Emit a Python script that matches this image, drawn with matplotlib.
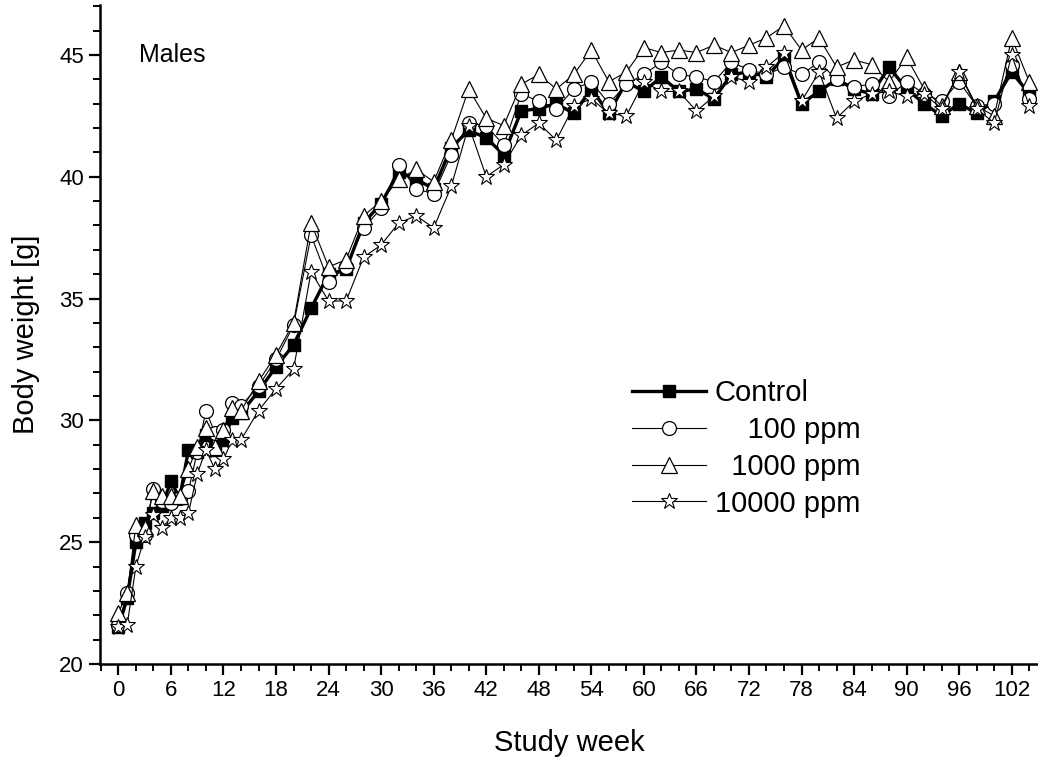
import matplotlib
matplotlib.use("Agg")
import matplotlib.pyplot as plt
from matplotlib.ticker import MultipleLocator

plt.rcParams["font.family"] = ["Liberation Sans", "DejaVu Sans"]

# study weeks: weekly up to 14, then every second week
weeks = list(range(0, 15)) + list(range(16, 105, 2))

control = [21.5, 22.7, 25.0, 25.8, 26.2, 26.5, 27.5, 26.8, 28.8, 28.7, 29.4, 28.8, 29.2, 30.1, 30.3,
           31.2, 32.2, 33.1, 34.6, 36.0, 36.2, 38.1, 38.9, 40.2, 39.9, 39.5, 41.2, 41.9, 41.6, 40.9,
           42.7, 42.8, 43.0, 42.6, 43.6, 42.6, 43.9, 43.5, 44.1, 43.5, 43.6, 43.2, 44.2, 44.3, 44.1,
           44.9, 43.0, 43.5, 44.0, 43.6, 43.4, 44.5, 43.6, 43.0, 42.5, 43.0, 42.6, 43.1, 44.3, 43.4]
ppm100 = [21.6, 22.9, 25.3, 25.3, 27.2, 26.7, 26.6, 26.8, 27.1, 28.7, 30.4, 29.5, 29.6, 30.7, 30.6,
          31.4, 32.5, 33.9, 37.6, 35.7, 36.3, 37.9, 38.7, 40.5, 39.5, 39.3, 40.9, 42.2, 42.1, 41.3,
          43.4, 43.1, 42.8, 43.6, 43.9, 43.0, 43.8, 44.2, 44.7, 44.2, 44.1, 43.9, 44.7, 44.4, 44.2,
          44.5, 44.2, 44.7, 44.0, 43.7, 43.8, 43.3, 43.9, 43.4, 43.1, 43.9, 42.9, 43.0, 44.6, 43.2]
ppm1000 = [22.1, 22.9, 25.7, 25.6, 27.1, 26.9, 26.9, 26.9, 28.0, 28.9, 29.7, 28.9, 29.6, 30.5, 30.4,
           31.6, 32.7, 34.0, 38.1, 36.3, 36.6, 38.4, 39.0, 39.9, 40.3, 39.8, 41.5, 43.6, 42.4, 42.1,
           43.8, 44.2, 43.6, 44.2, 45.2, 43.9, 44.3, 45.3, 45.1, 45.2, 45.1, 45.4, 45.1, 45.4, 45.7,
           46.2, 45.2, 45.7, 44.5, 44.8, 44.6, 43.9, 44.9, 43.6, 42.9, 44.3, 42.9, 42.5, 45.7, 43.9]
ppm10000 = [21.5, 21.6, 24.0, 25.2, 26.1, 25.6, 26.0, 26.0, 26.2, 27.8, 28.8, 28.0, 28.4, 29.2, 29.2,
            30.4, 31.3, 32.1, 36.1, 34.9, 34.9, 36.7, 37.2, 38.1, 38.4, 37.9, 39.6, 42.1, 40.0, 40.5,
            41.7, 42.2, 41.5, 42.9, 43.2, 42.6, 42.5, 43.9, 43.5, 43.5, 42.7, 43.3, 44.1, 43.9, 44.5,
            45.1, 43.1, 44.3, 42.4, 43.1, 43.4, 43.5, 43.3, 43.4, 42.8, 44.3, 42.8, 42.2, 45.0, 42.9]

labels = ["Control", "    100 ppm", "  1000 ppm", "10000 ppm"]

fig = plt.figure(figsize=(10.38, 7.62), dpi=100)
ax = fig.add_axes([100 / 1038, 98 / 762, 938 / 1038, 659 / 762])

ax.plot(weeks, control, color="black", lw=2.4, marker="s", ms=8,
        mfc="black", mec="black", label=labels[0], zorder=3)
ax.plot(weeks, ppm100, color="black", lw=0.8, marker="o", ms=10,
        mfc="white", mec="black", mew=0.9, label=labels[1], zorder=4)
ax.plot(weeks, ppm1000, color="black", lw=0.8, marker="^", ms=11,
        mfc="white", mec="black", mew=0.9, label=labels[2], zorder=5)
ax.plot(weeks, ppm10000, color="black", lw=0.8, marker="*", ms=12,
        mfc="white", mec="black", mew=0.8, label=labels[3], zorder=6)

ax.set_xlim(-2.1, 105)
ax.set_ylim(20, 47.05)
ax.xaxis.set_major_locator(MultipleLocator(6))
ax.xaxis.set_minor_locator(MultipleLocator(2))
ax.yaxis.set_major_locator(MultipleLocator(5))
ax.yaxis.set_minor_locator(MultipleLocator(1))

for side in ("top", "right"):
    ax.spines[side].set_visible(False)
for side in ("left", "bottom"):
    ax.spines[side].set_linewidth(1.8)
ax.tick_params(which="major", direction="out", length=8, width=1.6, labelsize=16)
ax.tick_params(which="minor", direction="out", length=5, width=1.4)

ax.set_xlabel("Study week", fontsize=21, labelpad=20)
ax.set_ylabel("Body weight [g]", fontsize=21, labelpad=14)
ax.text(2.4, 45.0, "Males", fontsize=18, va="center", ha="left")

ax.legend(loc="upper left", bbox_to_anchor=(0.567, 0.432), frameon=False,
          fontsize=21, handlelength=2.55, handletextpad=0.3, labelspacing=0.3,
          borderpad=0, borderaxespad=0)

fig.savefig("out.png", dpi=100)
